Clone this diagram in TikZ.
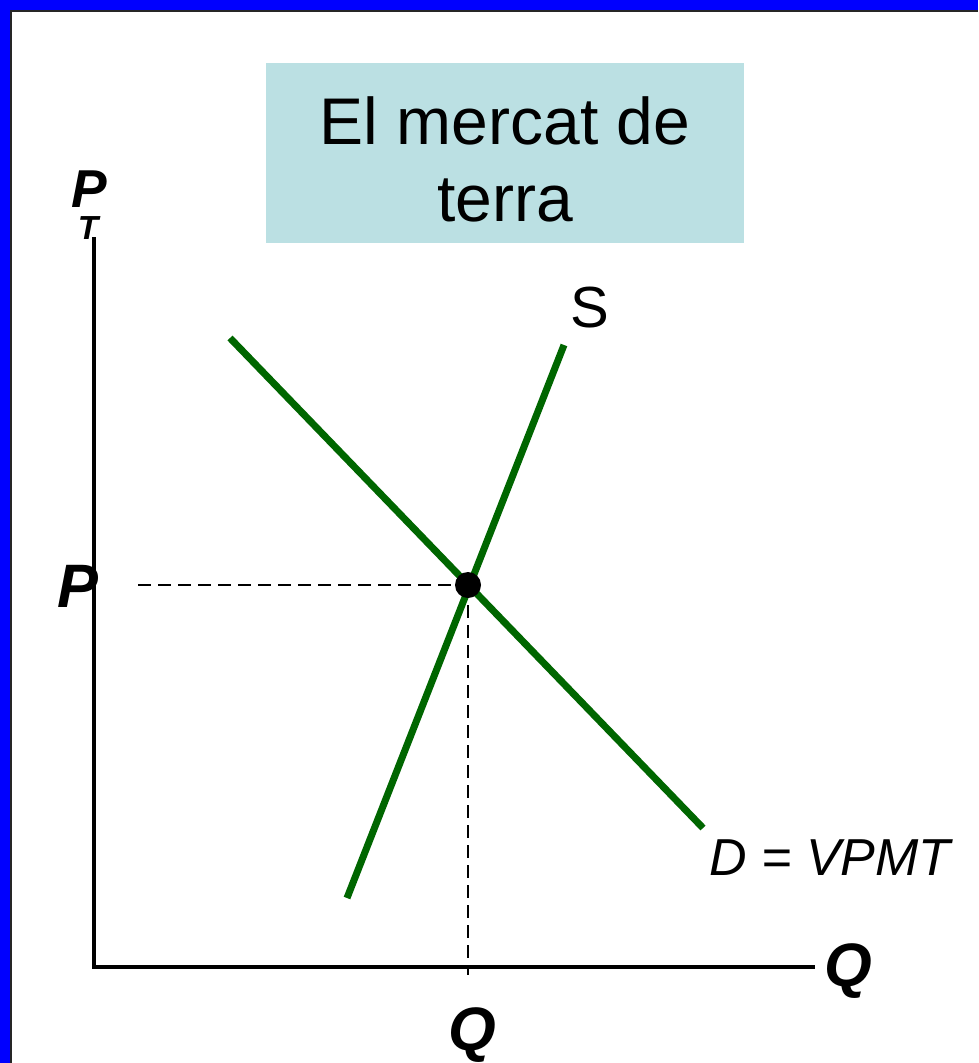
\documentclass[tikz,border=0pt]{standalone}
\usepackage{fontspec}
\setmainfont{Liberation Sans}
\definecolor{frameblue}{rgb}{0,0,1}
\definecolor{titlebg}{RGB}{187,224,227}
\definecolor{curvegreen}{RGB}{0,102,0}
\begin{document}
\begin{tikzpicture}[x=0.75pt,y=-0.75pt,
  curve/.style={curvegreen,line width=5.25pt},
  axis/.style={black,line width=2.3pt},
  guide/.style={black,line width=1.1pt,dash pattern=on 10pt off 5pt},
  boldlab/.style={font=\fontsize{46}{50}\selectfont\bfseries\itshape,inner sep=0pt},
  itlab/.style={font=\fontsize{39}{44}\selectfont\itshape,inner sep=0pt},
  titletext/.style={font=\fontsize{49.5}{59}\selectfont,inner sep=0pt,anchor=base}]
\useasboundingbox (0,0) rectangle (978,1063);
% frame
\fill[frameblue] (0,0) rectangle (978,1063);
\fill[black!85] (10,10) rectangle (978,1063);
\fill[white] (12,12) rectangle (978,1063);
% title
\fill[titlebg] (266,63) rectangle (744,243);
\node[titletext] (t1) at (505,144) {El mercat de};
\node[titletext] (t2) at (505,221) {terra};
% axes
\coordinate (O) at (94,967);
\coordinate (ytop) at (94,237);
\coordinate (xend) at (815,967);
\draw[axis] (ytop) -- (O) -- (xend);
% equilibrium
\coordinate (E) at (468,585);
\coordinate (Pl) at (138,585);
\coordinate (Qb) at (468,975);
\draw[guide] (Pl) -- (E);
\draw[guide] (E) -- (Qb);
% curves
\coordinate (D1) at (230,338);
\coordinate (D2) at (703,828);
\coordinate (S1) at (347,898);
\coordinate (S2) at (564,345);
\draw[curve] (D1) -- (D2);
\draw[curve] (S1) -- (S2);
\fill[black] (E) circle (13);
% labels
\node[font=\fontsize{40}{44}\selectfont\bfseries\itshape,inner sep=0pt,anchor=base] (PT) at (89,207)
  {P\makebox[0pt][r]{\raisebox{-24pt}{\fontsize{25}{30}\selectfont T}\hspace{6.5pt}}};
\node[boldlab,anchor=base] (Plab) at (78,607) {P};
\node[boldlab,anchor=base] (Qx) at (848,986) {Q};
\node[boldlab,anchor=base] (Qy) at (472,1050) {Q};
\node[font=\fontsize{43.5}{48}\selectfont,inner sep=0pt,anchor=base] (Slab) at (590,327) {S};
\node[itlab,anchor=base west] (Dlab) at (709,875) {D = VPMT};
\end{tikzpicture}
\end{document}
